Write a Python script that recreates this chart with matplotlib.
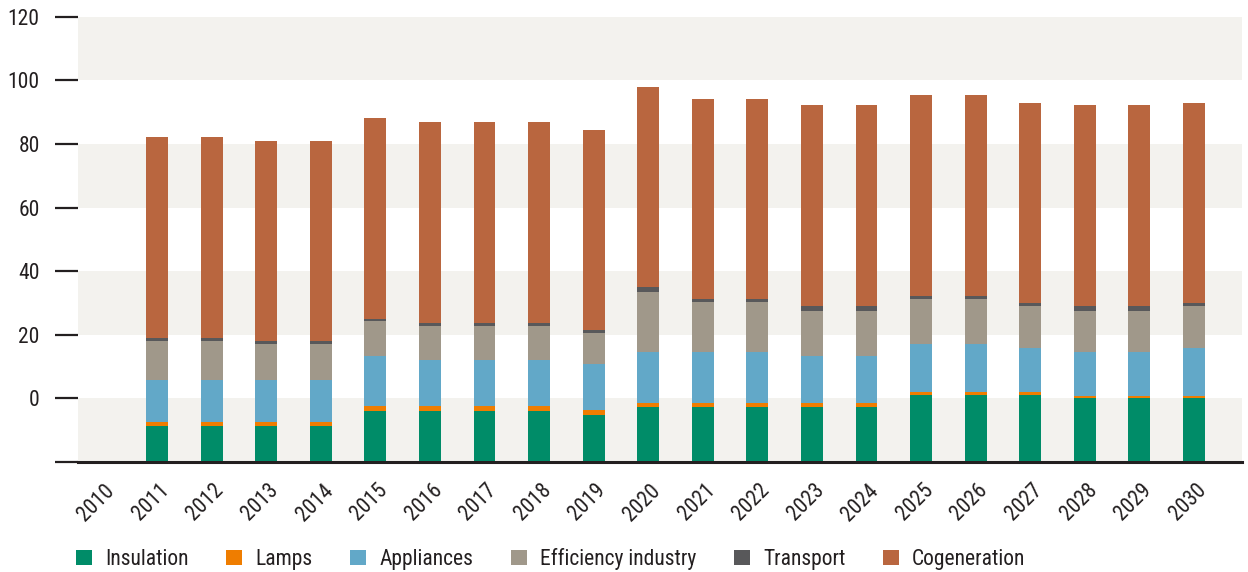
import matplotlib
matplotlib.use("Agg")
import matplotlib.pyplot as plt
from matplotlib import font_manager
from matplotlib.patches import Patch
from matplotlib.transforms import ScaledTranslation
import numpy as np

years = [str(y) for y in range(2010, 2031)]
series_names = ["Insulation", "Lamps", "Appliances", "Efficiency industry", "Transport", "Cogeneration"]
base = -20

insulation = [0, 11.4, 11.4, 11.4, 11.4, 16.1, 16.1, 16.1, 16.1, 14.9, 17.4, 17.4, 17.4, 17.4, 17.4, 21.2, 21.2, 21.2, 20.0, 20.0, 20.0]
lamps      = [0, 1.2, 1.2, 1.2, 1.2, 1.4, 1.4, 1.4, 1.4, 1.3, 1.3, 1.3, 1.3, 1.3, 1.3, 0.9, 0.9, 0.9, 0.9, 0.9, 0.9]
appliances = [0, 13.3, 13.3, 13.3, 13.3, 15.7, 14.5, 14.5, 14.5, 14.7, 15.8, 15.8, 15.8, 14.5, 14.5, 14.9, 14.9, 13.7, 13.6, 13.6, 14.9]
efficiency = [0, 12.1, 12.1, 11.1, 11.1, 11.0, 10.9, 10.9, 10.9, 9.5, 19.1, 15.7, 15.7, 14.4, 14.4, 14.4, 14.4, 13.1, 13.1, 13.1, 13.1]
transport  = [0, 1.1, 1.1, 0.9, 0.9, 0.9, 0.9, 0.9, 0.9, 1.2, 1.4, 0.9, 0.9, 1.3, 1.3, 0.9, 0.9, 1.2, 1.3, 1.3, 1.2]
cogeneration = [0, 63.1, 63.1, 63.0, 63.0, 63.0, 63.2, 63.2, 63.2, 62.8, 62.9, 63.1, 63.1, 63.2, 63.2, 63.1, 63.1, 62.7, 63.2, 63.2, 62.7]

colors = ["#008c68", "#ef7d00", "#62a8c8", "#a0988a", "#58585a", "#b9663f"]

# look for a narrow / condensed regular face
cands = []
for f in font_manager.fontManager.ttflist:
    fn = f.fname.lower()
    if f.style != "normal" or f.weight not in (400, "normal", "regular"):
        continue
    if any(k in fn for k in ("condensed", "narrow")) and not any(k in fn for k in ("bold", "italic", "light", "semi", "extra", "black", "thin", "medium", "oblique")):
        cands.append(f)
pref = ["roboto", "dejavu", "liberation", "noto", "open"]
cands.sort(key=lambda f: next((i for i, p in enumerate(pref) if p in f.fname.lower()), 99))
if cands:
    fp = font_manager.FontProperties(fname=cands[0].fname)
    fs = 15.5
else:
    fp = font_manager.FontProperties(family="DejaVu Sans")
    fs = 13.5
txt_color = "#231f20"

W, H = 1248, 572
fig = plt.figure(figsize=(W / 100, H / 100), dpi=100)
ax = fig.add_axes([78 / W, 1 - 462 / H, (1242 - 78) / W, (462 - 16.7) / H])

ax.set_ylim(-20, 120)
ax.set_xlim(-0.45, 20.88)
for lo in (-20, 20, 60, 100):
    ax.axhspan(lo, lo + 20, color="#f3f2ee", zorder=0, lw=0)

x = np.arange(len(years))
bottom = np.full(len(years), float(base))
for vals, c in zip([insulation, lamps, appliances, efficiency, transport, cogeneration], colors):
    v = np.array(vals, dtype=float)
    ax.bar(x, v, width=0.4, bottom=bottom, color=c, zorder=2, lw=0)
    bottom += v

for s in ("top", "right", "left"):
    ax.spines[s].set_visible(False)
ax.spines["bottom"].set_linewidth(2.2)
ax.spines["bottom"].set_color(txt_color)
ax.spines["bottom"].set_zorder(3)

ax.set_yticks([-20, 0, 20, 40, 60, 80, 100, 120])
ax.set_yticklabels(["", "0", "20", "40", "60", "80", "100", "120"], fontproperties=fp, fontsize=fs)
ax.tick_params(axis="y", length=16.5, width=1.6, color=txt_color, pad=11, labelcolor=txt_color)
ax.set_xticks(x)
ax.set_xticklabels(years, rotation=45, ha="right", va="center", rotation_mode="anchor",
                   fontproperties=fp, fontsize=fs)
ax.tick_params(axis="x", length=0, pad=14, labelcolor=txt_color)
off = ScaledTranslation(9 / 100, -6 / 100, fig.dpi_scale_trans)
for lab in ax.get_xticklabels():
    lab.set_transform(lab.get_transform() + off)

handles = [Patch(facecolor=c, edgecolor="none") for c in colors]
lp = fp.copy()
lp.set_size(fs)
fig.legend(handles, series_names, loc="center left", bbox_to_anchor=(76 / W, 1 - 559 / H),
           ncol=6, frameon=False, prop=lp, handlelength=0.74, handleheight=0.7,
           handletextpad=0.62, columnspacing=1.74, borderpad=0, borderaxespad=0,
           labelcolor=txt_color)

fig.savefig("out.png", dpi=100)
